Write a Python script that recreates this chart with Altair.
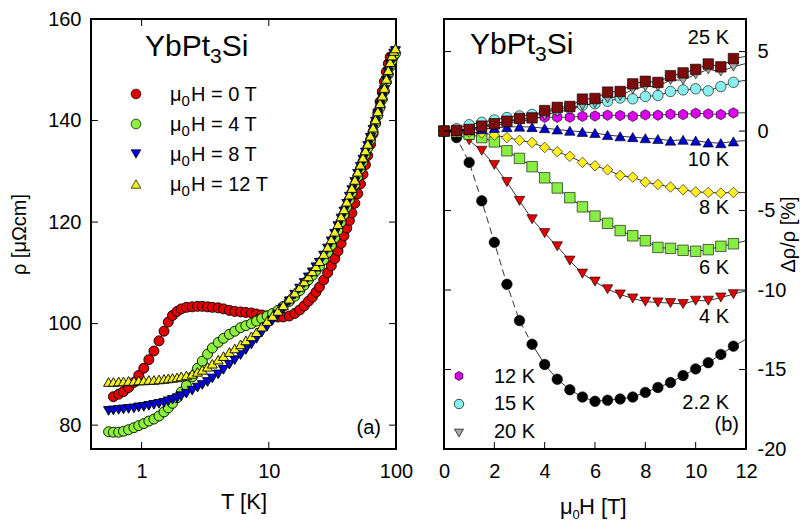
import altair as alt
import pandas as pd

FONT = "Liberation Sans"

# ---------------- panel (a): rho(T) ----------------
T_K = [0.55, 0.6, 0.66, 0.72, 0.79, 0.87, 0.95, 1.04, 1.14, 1.25,
       1.37, 1.5, 1.62, 1.75, 1.9, 2.05, 2.25, 2.5, 2.75, 3.0,
       3.3, 3.6, 4.0, 4.4, 4.9, 5.4, 6.0, 6.6, 7.3, 8.0,
       8.8, 9.7, 10.7, 11.8, 13, 14.5, 16, 17.5, 19, 20.5,
       22, 23.5, 25, 27, 29, 31, 33, 35, 37, 39,
       41, 43, 45, 47.5, 50, 52.5, 55, 57.5, 60, 63,
       66, 69, 72, 75, 78, 81, 84, 87, 90, 93,
       96, 99]

rho_0T = [None, 85.6, 86.1, 86.6, 87.4, 88.4, 89.8, 91.2, 92.9, 94.6,
          96.6, 98.5, 100.3, 101.6, 102.4, 102.9, 103.2, 103.3, 103.4, 103.4,
          103.3, 103.2, 103.1, 102.9, 102.6, 102.4, 102.3, 102.2, 102.1, 101.9,
          101.7, 101.5, 101.4, 101.3, 101.3, 101.5, 102.0, 102.7, 103.5, 104.4,
          105.2, 106.2, 107.2, 108.6, 110.0, 111.4, 112.8, 114.3, 115.8, 117.3,
          118.8, 120.3, 121.8, 123.7, 125.6, 127.5, 129.4, 131.3, 133.1, 135.3,
          137.4, 139.5, 141.6, 143.7, 145.7, 147.7, 149.6, 151.2, 152.5, None,
          None, None]

rho_4T = [78.7, 78.6, 78.6, 78.8, 79.1, 79.5, 79.9, 80.3, 80.8, 81.2,
          81.8, 82.6, 83.4, 84.3, 85.4, 86.5, 87.8, 89.5, 91.2, 92.6,
          94.0, 95.2, 96.3, 97.1, 97.9, 98.5, 99.2, 99.6, 100.0, 100.5,
          101.0, 101.5, 102.0, 102.6, 103.4, 104.4, 105.4, 106.5, 107.6, 108.6,
          109.5, 110.4, 111.3, 112.6, 114.0, 115.4, 116.9, 118.4, 120.0, 121.5,
          123.0, 124.4, 125.8, 127.4, 129.0, 130.5, 131.9, 133.3, 134.6, 136.2,
          137.8, 139.4, 141.0, 142.6, 144.2, 145.8, 147.6, 149.1, 150.6, 151.8,
          152.7, 153.2]

rho_8T = [82.8, 82.9, 83.0, 83.1, 83.2, 83.3, 83.5, 83.6, 83.8, 84.0,
          84.2, 84.4, 84.7, 85.0, 85.3, 85.7, 86.2, 86.8, 87.4, 87.9,
          88.5, 89.2, 90.0, 90.9, 91.9, 92.8, 93.8, 94.8, 95.9, 97.0,
          98.2, 99.4, 100.6, 101.8, 103.0, 104.4, 105.7, 106.9, 108.0, 109.1,
          110.1, 111.1, 112.0, 113.4, 114.8, 116.2, 117.7, 119.2, 120.7, 122.1,
          123.6, 125.0, 126.3, 127.9, 129.5, 130.9, 132.3, 133.7, 135.0, 136.6,
          138.2, 139.8, 141.4, 143.0, 144.5, 146.0, 147.9, 149.5, 151.0, 152.3,
          153.2, 153.7]

rho_12T = [88.5, 88.5, 88.6, 88.6, 88.7, 88.7, 88.8, 88.8, 88.9, 88.9,
           89.0, 89.1, 89.2, 89.3, 89.4, 89.6, 89.8, 90.1, 90.5, 90.9,
           91.5, 92.1, 92.9, 93.6, 94.4, 95.1, 95.9, 96.7, 97.5, 98.3,
           99.4, 100.5, 101.5, 102.5, 103.6, 104.9, 106.1, 107.2, 108.3, 109.3,
           110.3, 111.3, 112.3, 113.7, 115.1, 116.6, 118.1, 119.6, 121.1, 122.5,
           124.0, 125.4, 126.7, 128.3, 129.9, 131.3, 132.7, 134.1, 135.4, 137.0,
           138.6, 140.2, 141.8, 143.4, 144.9, 146.4, 148.2, 149.9, 151.5, 152.8,
           153.7, 154.2]

fields_a = ["0", "4", "8", "12"]
colors_a = ["#e00000", "#8cf03c", "#0000e0", "#f2f020"]
shapes_a = ["circle", "circle", "triangle-down", "triangle-up"]

# ---------------- panel (b): MR(H) ----------------
H_T = [0, 0.5, 1, 1.5, 2, 2.5, 3, 3.5, 4, 4.5, 5, 5.5,
       6, 6.5, 7, 7.5, 8, 8.5, 9, 9.5, 10, 10.5, 11, 11.5]

mr_2p2K = [0, -0.41, -1.97, -4.39, -7.0, -9.64, -11.92, -13.41, -14.68, -15.61, -16.27, -16.73,
           -17.0, -16.93, -16.85, -16.73, -16.44, -16.13, -15.82, -15.38, -14.96, -14.57, -14.05, -13.53]
mr_4K = [0, -0.15, -0.58, -1.24, -2.13, -3.21, -4.39, -5.55, -6.42, -7.25, -8.15, -8.97,
         -9.47, -9.95, -10.28, -10.53, -10.73, -10.78, -10.82, -10.88, -10.67, -10.67, -10.47, -10.26]
mr_6K = [0, -0.05, -0.2, -0.41, -0.68, -1.24, -1.72, -2.24, -2.94, -3.58, -4.19, -4.77,
         -5.35, -5.8, -6.26, -6.59, -6.9, -7.32, -7.38, -7.5, -7.56, -7.46, -7.25, -7.09]
mr_8K = [0, -0.02, -0.06, -0.12, -0.25, -0.41, -0.58, -0.72, -1.03, -1.3, -1.59, -1.97,
         -2.18, -2.44, -2.8, -2.9, -3.21, -3.36, -3.52, -3.69, -3.83, -3.86, -3.9, -3.86]
mr_10K = [0, 0.02, 0.06, 0.12, 0.2, 0.25, 0.28, 0.25, 0.18, 0.1, 0.02, -0.05,
          -0.12, -0.25, -0.33, -0.38, -0.45, -0.5, -0.6, -0.55, -0.6, -0.72, -0.76, -0.65]
mr_12K = [0, 0.05, 0.15, 0.3, 0.45, 0.6, 0.72, 0.8, 0.87, 0.87, 0.87, 0.93,
          0.95, 1.0, 0.98, 0.93, 1.02, 1.0, 1.06, 1.04, 1.12, 1.08, 1.04, 1.14]
mr_15K = [0, 0.15, 0.4, 0.55, 0.7, 0.85, 0.95, 1.05, 1.2, 1.35, 1.45, 1.62,
          1.72, 1.87, 2.08, 2.03, 2.18, 2.24, 2.49, 2.59, 2.66, 2.53, 2.8, 3.07]
mr_20K = [0, 0.03, 0.08, 0.22, 0.35, 0.5, 0.62, 0.7, 1.0, 1.2, 1.35, 1.6,
          1.75, 2.05, 2.2, 2.62, 2.8, 2.8, 3.21, 3.21, 3.57, 3.88, 3.75, 4.05]
mr_25K = [0, 0.04, 0.1, 0.31, 0.46, 0.62, 0.79, 0.83, 1.29, 1.49, 1.55, 2.01,
          2.05, 2.45, 2.49, 2.97, 3.13, 3.06, 3.48, 3.66, 3.88, 4.22, 4.04, 4.56]

# fitted lines continue to the frame edge at 12 T
H_end = 12
mr_end = [-13.1, -10.05, -6.9, -3.86, -0.6, 1.15, 3.2, 4.25, 4.7]

temps_b = ["2.2 K", "4 K", "6 K", "8 K", "10 K", "12 K", "15 K", "20 K", "25 K"]
HEX = "M0,-1L0.866,-0.5L0.866,0.5L0,1L-0.866,0.5L-0.866,-0.5Z"
colors_b = ["#000000", "#e00000", "#88ee44", "#ffee22", "#0000cc", "#dd00ee", "#88eeee", "#a8a8a8", "#7b0c0c"]
shapes_b = ["circle", "triangle-down", "square", "diamond", "triangle-up", HEX, "circle", "triangle-down", "square"]
sizes_b = [110, 110, 80, 110, 100, 110, 100, 100, 85]

TL = 7


def txt(s, x, y, size, align="left"):
    return alt.Chart(pd.DataFrame({"s": [s]})).mark_text(
        align=align, baseline="alphabetic", fontSize=size, font=FONT, color="black"
    ).encode(x=alt.value(x), y=alt.value(y), text="s:N")


def marker(x, y, shape, color, size=95):
    return alt.Chart(pd.DataFrame({"s": [0]})).mark_point(
        filled=True, opacity=1, stroke="black", strokeWidth=0.7, size=size
    ).encode(x=alt.value(x), y=alt.value(y), shape=alt.value(shape), fill=alt.value(color))


def yticks(vals, enc, W):
    d = pd.DataFrame({"v": vals})
    return [
        alt.Chart(d).mark_rule(color="black", strokeWidth=1).encode(
            y=enc("v"), x=alt.value(0), x2=alt.value(TL)),
        alt.Chart(d).mark_rule(color="black", strokeWidth=1).encode(
            y=enc("v"), x=alt.value(W - TL), x2=alt.value(W)),
    ]


def xticks(vals, enc, H, top=True):
    d = pd.DataFrame({"v": vals})
    out = [alt.Chart(d).mark_rule(color="black", strokeWidth=1).encode(
        x=enc("v"), y=alt.value(H - TL), y2=alt.value(H))]
    if top:
        out.append(alt.Chart(d).mark_rule(color="black", strokeWidth=1).encode(
            x=enc("v"), y=alt.value(0), y2=alt.value(TL)))
    return out


# ---------------- build panel (a) ----------------
W1, H1 = 305, 430
xsa = alt.Scale(type="log", domain=[0.4, 100], nice=False)
ysa = alt.Scale(domain=[75.3, 160], nice=False, zero=False)
axa_x = alt.Axis(values=[1, 10, 100], format="d", title="T [K]", labelFlush=False,
                 labelFontSize=20, titleFontSize=22, labelPadding=12, titlePadding=10)
axa_y = alt.Axis(values=[80, 100, 120, 140, 160], title="ρ [μΩcm]",
                 labelFontSize=20, titleFontSize=20, labelPadding=10, titlePadding=18)


def ax_x(f):
    return alt.X(f + ":Q", scale=xsa, axis=axa_x)


def ax_y(f):
    return alt.Y(f + ":Q", scale=ysa, axis=axa_y)


rows = []
for key, arr in zip(fields_a, [rho_0T, rho_4T, rho_8T, rho_12T]):
    for t, r in zip(T_K, arr):
        if r is not None:
            rows.append({"T": t, "rho": r, "field": key})
dfa = pd.DataFrame(rows)

pts_a = alt.Chart(dfa).mark_point(filled=True, opacity=1, stroke="black", strokeWidth=0.9, size=100).encode(
    x=ax_x("T"),
    y=ax_y("rho"),
    fill=alt.Fill("field:N", scale=alt.Scale(domain=fields_a, range=colors_a), legend=None),
    shape=alt.Shape("field:N", scale=alt.Scale(domain=fields_a, range=shapes_a), legend=None),
)

legend_a = []
leg_labels = ["0", "4", "8", "12"]
for i, (c, sh, lab) in enumerate(zip(colors_a, shapes_a, leg_labels)):
    ym = 75 + 30 * i
    yb = 82 + 30 * i
    legend_a += [
        marker(45, ym, sh, c, 95),
        txt("μ", 79, yb, 20),
        txt("0", 90.5, yb + 5, 15),
        txt("H = " + lab + " T", 100, yb, 20),
    ]

title_a = [txt("YbPt", 54, 37, 30), txt("3", 119, 44, 21), txt("Si", 130.7, 37, 30)]

panel_a = alt.layer(
    pts_a,
    *yticks([80, 100, 120, 140], ax_y, W1),
    *xticks([1, 10], ax_x, H1),
    *legend_a,
    *title_a,
    txt("(a)", 290, 415, 20, "right"),
).properties(width=W1, height=H1)

# ---------------- build panel (b) ----------------
W2, H2 = 302, 430
xsb = alt.Scale(domain=[0, 12], nice=False)
ysb = alt.Scale(domain=[-20, 7.05], nice=False, zero=False)
axb_x = alt.Axis(values=[0, 2, 4, 6, 8, 10, 12], title=None, labelFlush=False,
                 labelFontSize=20, labelPadding=12)
axb_y = alt.Axis(orient="right", values=[-20, -15, -10, -5, 0, 5],
                 labelExpr="datum.value < 0 ? '-' + toString(abs(datum.value)) : toString(datum.value)",
                 title="Δρ/ρ [%]", titleAngle=270, labelFontSize=20,
                 titleFontSize=20, labelPadding=11, titlePadding=13)


def bx_x(f):
    return alt.X(f + ":Q", scale=xsb, axis=axb_x)


def bx_y(f):
    return alt.Y(f + ":Q", scale=ysb, axis=axb_y)


series_b = [mr_2p2K, mr_4K, mr_6K, mr_8K, mr_10K, mr_12K, mr_15K, mr_20K, mr_25K]
prow, lrow, drow = [], [], []
for i, (t, arr) in enumerate(zip(temps_b, series_b)):
    for h, v in zip(H_T, arr):
        prow.append({"H": h, "v": v, "temp": t})
        if t == "2.2 K" and h <= 3.5:
            drow.append({"H": h, "v": v, "temp": t})
        if not (t == "2.2 K" and h < 3.5):
            lrow.append({"H": h, "v": v, "temp": t})
    lrow.append({"H": H_end, "v": mr_end[i], "temp": t})
dfp = pd.DataFrame(prow)
dfl = pd.DataFrame(lrow)
dfd = pd.DataFrame(drow)

lines_b = alt.Chart(dfl).mark_line(color="black", strokeWidth=0.8).encode(
    x=bx_x("H"), y=bx_y("v"), detail="temp:N")
dash_b = alt.Chart(dfd).mark_line(color="black", strokeWidth=0.8, strokeDash=[7, 4]).encode(
    x=bx_x("H"), y=bx_y("v"))

pts_b = alt.Chart(dfp).mark_point(filled=True, opacity=1, stroke="black", strokeWidth=0.6).encode(
    x=bx_x("H"),
    y=bx_y("v"),
    fill=alt.Fill("temp:N", scale=alt.Scale(domain=temps_b, range=colors_b), legend=None),
    shape=alt.Shape("temp:N", scale=alt.Scale(domain=temps_b, range=shapes_b), legend=None),
    size=alt.Size("temp:N", scale=alt.Scale(domain=temps_b, range=sizes_b), legend=None),
)

title_b = [txt("YbPt", 26, 35, 30), txt("3", 91, 42, 21), txt("Si", 102.7, 35, 30)]
labels_b = [
    txt("25 K", 285, 25, 20, "right"),
    txt("10 K", 285, 147, 20, "right"),
    txt("8 K", 285, 195, 20, "right"),
    txt("6 K", 285, 255, 20, "right"),
    txt("4 K", 285, 304, 20, "right"),
    txt("2.2 K", 285, 390, 20, "right"),
    txt("(b)", 295, 412, 20, "right"),
]
legend_b = [
    marker(15, 357, HEX, "#dd00ee", 80), txt("12 K", 50, 364, 20),
    marker(15, 385, "circle", "#88eeee", 90), txt("15 K", 50, 391, 20),
    marker(15, 414, "triangle-down", "#a8a8a8", 80), txt("20 K", 50, 419, 20),
]
xtitle_b = [txt("μ", 116, 495, 22), txt("0", 128.5, 500, 13), txt("H [T]", 135, 495, 22)]

panel_b = alt.layer(
    lines_b,
    dash_b,
    pts_b,
    *yticks([-15, -10, -5, 0, 5], bx_y, W2),
    *xticks([2, 4, 6, 8, 10], bx_x, H2, top=False),
    *title_b, *labels_b, *legend_b, *xtitle_b,
).properties(width=W2, height=H2)

chart = alt.hconcat(panel_a, panel_b, spacing=22).resolve_scale(
    fill="independent", shape="independent", size="independent"
).properties(
    padding={"left": 0, "top": 0, "right": 0, "bottom": 0}
).configure_view(stroke="black", strokeWidth=2).configure_axis(
    labelFont=FONT, titleFont=FONT, labelColor="black", titleColor="black",
    titleFontWeight="normal", grid=False, ticks=False, domain=False
)

chart.save("out.html", embed_options={"renderer": "svg", "actions": False})
